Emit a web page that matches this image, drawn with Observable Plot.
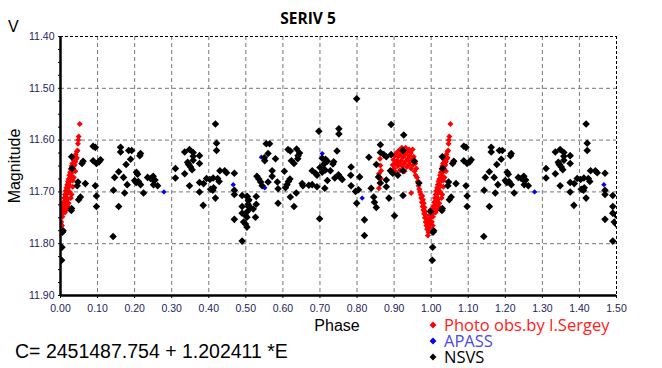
<!DOCTYPE html>
<html>
<head>
<meta charset="utf-8">
<script src="https://cdn.jsdelivr.net/npm/d3@7"></script>
<script src="https://cdn.jsdelivr.net/npm/@observablehq/plot@0.6"></script>
<style>
  html, body { margin: 0; padding: 0; background: #fff; }
  #wrap { position: relative; width: 662px; height: 368px; overflow: hidden; }
  svg text { font-family: "Liberation Sans", Arial, sans-serif; }
</style>
</head>
<body>
<div id="wrap"></div>
<script>
// ---------------- DATA (phase, V magnitude) ----------------
// Photo obs. by I.Sergey (red)
const photoObs = [
  [0.859,11.665],[0.859,11.693],[0.862,11.636],[0.863,11.649],[0.865,11.659],[0.861,11.683],[0.864,11.674],
  [0.896,11.648],[0.898,11.638],[0.900,11.655],[0.902,11.630],[0.903,11.645],[0.905,11.662],[0.906,11.625],
  [0.908,11.640],[0.910,11.650],[0.911,11.632],[0.913,11.620],[0.914,11.645],[0.916,11.658],[0.918,11.628],
  [0.919,11.640],[0.921,11.615],[0.922,11.650],[0.924,11.633],[0.925,11.622],[0.927,11.645],[0.928,11.660],
  [0.930,11.628],[0.931,11.615],[0.933,11.640],[0.934,11.652],[0.936,11.622],[0.937,11.635],[0.939,11.648],
  [0.940,11.618],[0.942,11.630],[0.943,11.642],[0.945,11.625],[0.946,11.655],[0.948,11.638],[0.950,11.618],
  [0.951,11.648],[0.953,11.632],[0.955,11.660],[0.957,11.645],[0.958,11.668],[0.960,11.655],
  [0.946,11.702],
  [0.962,11.672],[0.964,11.680],[0.966,11.688],[0.968,11.695],[0.970,11.700],[0.972,11.705],
  [0.973,11.712],[0.975,11.720],[0.976,11.708],[0.977,11.728],[0.978,11.715],[0.979,11.735],[0.980,11.722],
  [0.981,11.742],[0.982,11.730],[0.983,11.750],[0.984,11.738],[0.985,11.758],[0.986,11.745],[0.987,11.765],
  [0.988,11.752],[0.989,11.772],[0.990,11.760],[0.991,11.784],[0.992,11.768],[0.993,11.778],[0.994,11.755],
  [0.995,11.770],[0.996,11.745],[0.997,11.762],[0.998,11.735],[0.999,11.750],
  [0.001,11.742],[0.002,11.758],[0.003,11.735],[0.004,11.765],[0.005,11.748],[0.006,11.728],[0.007,11.740],
  [0.008,11.720],[0.009,11.732],[0.010,11.712],[0.011,11.725],[0.012,11.705],[0.013,11.718],[0.014,11.698],
  [0.015,11.710],[0.016,11.692],[0.017,11.704],[0.018,11.686],[0.019,11.698],[0.020,11.680],[0.021,11.692],
  [0.022,11.675],[0.023,11.686],[0.024,11.668],[0.025,11.680],[0.026,11.662],[0.027,11.674],[0.028,11.656],
  [0.029,11.668],[0.030,11.650],[0.031,11.662],[0.032,11.645],[0.034,11.655],[0.035,11.638],[0.036,11.650],
  [0.038,11.632],[0.040,11.642],[0.041,11.628],[0.043,11.636],[0.044,11.622],[0.046,11.620],[0.047,11.607],
  [0.048,11.600],[0.049,11.593],[0.052,11.569],
  [0.025,11.700],[0.028,11.712],[0.022,11.722],[0.033,11.690],[0.030,11.705],[0.036,11.672],[0.040,11.660],
  [0.018,11.715],[0.012,11.740],[0.033,11.678],[0.038,11.648],[0.044,11.634],[0.020,11.728],[0.015,11.735]
];
// APASS (blue)
const apass = [
  [0.279,11.700],[0.466,11.686],[0.542,11.633],[0.551,11.692],[0.706,11.626],[0.715,11.660],[0.814,11.712]
];
// NSVS (black)
const nsvs = [
  [0.003,11.832],[0.004,11.807],[0.005,11.778],[0.007,11.775],
  [0.030,11.632],[0.031,11.655],[0.030,11.732],[0.029,11.736],
  [0.047,11.681],[0.045,11.688],[0.054,11.710],[0.049,11.715],
  [0.061,11.641],[0.058,11.645],[0.067,11.684],
  [0.088,11.612],[0.094,11.614],[0.088,11.640],[0.097,11.645],[0.104,11.642],[0.108,11.638],
  [0.094,11.688],[0.097,11.708],[0.097,11.728],
  [0.142,11.786],
  [0.162,11.614],[0.162,11.623],[0.184,11.620],[0.192,11.620],[0.216,11.626],[0.214,11.630],[0.189,11.637],
  [0.177,11.647],[0.205,11.662],[0.208,11.666],[0.157,11.661],[0.146,11.672],[0.170,11.672],[0.200,11.678],
  [0.204,11.682],[0.210,11.680],[0.235,11.672],[0.243,11.674],[0.180,11.686],[0.216,11.686],[0.143,11.697],
  [0.173,11.702],[0.224,11.702],[0.157,11.728],[0.251,11.678],
  [0.418,11.569],[0.421,11.606],[0.421,11.620],[0.335,11.623],[0.348,11.618],[0.358,11.624],[0.358,11.631],
  [0.358,11.639],[0.375,11.630],[0.343,11.643],[0.347,11.648],[0.351,11.652],[0.355,11.657],[0.345,11.646],
  [0.375,11.645],[0.310,11.655],[0.335,11.665],[0.310,11.673],[0.250,11.670],[0.251,11.686],[0.255,11.677],
  [0.262,11.688],[0.348,11.688],[0.375,11.682],[0.386,11.684],[0.394,11.674],[0.403,11.676],[0.412,11.673],
  [0.424,11.674],[0.428,11.680],[0.430,11.659],[0.443,11.659],[0.448,11.663],[0.469,11.664],[0.375,11.700],
  [0.405,11.695],[0.413,11.692],[0.411,11.697],[0.418,11.712],[0.385,11.726],[0.469,11.697],[0.469,11.705],
  [0.490,11.707],[0.503,11.709],[0.507,11.717],[0.490,11.728],[0.507,11.728],[0.490,11.741],[0.499,11.745],
  [0.503,11.749],[0.469,11.753],[0.494,11.758],[0.499,11.762],[0.503,11.768],[0.490,11.795],
  [0.697,11.583],[0.751,11.578],[0.751,11.588],[0.555,11.607],[0.564,11.607],[0.560,11.626],[0.550,11.634],
  [0.551,11.640],[0.580,11.636],[0.614,11.618],[0.620,11.621],[0.637,11.617],[0.645,11.625],[0.641,11.630],
  [0.623,11.640],[0.630,11.645],[0.640,11.636],[0.571,11.659],[0.571,11.670],[0.604,11.660],[0.530,11.670],
  [0.535,11.675],[0.540,11.681],[0.544,11.688],[0.560,11.681],[0.585,11.681],[0.587,11.694],[0.607,11.692],
  [0.611,11.686],[0.615,11.680],[0.619,11.675],[0.652,11.684],[0.654,11.688],[0.670,11.687],[0.679,11.686],
  [0.692,11.690],[0.679,11.659],[0.688,11.664],[0.692,11.668],[0.700,11.653],[0.706,11.662],[0.713,11.657],
  [0.711,11.646],[0.715,11.637],[0.706,11.635],[0.720,11.641],[0.737,11.642],[0.735,11.646],[0.746,11.621],
  [0.728,11.659],[0.740,11.673],[0.750,11.667],[0.755,11.672],[0.720,11.678],[0.713,11.693],[0.504,11.709],
  [0.508,11.715],[0.506,11.724],[0.512,11.730],[0.504,11.738],[0.520,11.733],[0.528,11.724],[0.528,11.709],
  [0.526,11.749],[0.587,11.722],[0.620,11.710],[0.636,11.702],[0.630,11.728],[0.699,11.752],
  [0.799,11.520],[0.892,11.570],[0.926,11.590],[0.863,11.609],[0.832,11.633],[0.863,11.624],[0.872,11.628],
  [0.879,11.632],[0.892,11.628],[0.924,11.620],[0.955,11.641],[0.852,11.647],[0.784,11.652],[0.783,11.668],
  [0.760,11.676],[0.807,11.671],[0.890,11.659],[0.896,11.664],[0.910,11.668],[0.924,11.659],[0.858,11.671],
  [0.879,11.677],[0.863,11.683],[0.879,11.690],[0.784,11.688],[0.838,11.693],[0.796,11.699],[0.804,11.696],
  [0.967,11.683],[0.845,11.710],[0.847,11.720],[0.852,11.730],[0.799,11.722],[0.886,11.712],[0.924,11.707],
  [0.820,11.754],[0.901,11.746],[0.820,11.784],[0.998,11.738]
];
const xTicks = [0,0.1,0.2,0.3,0.4,0.5,0.6,0.7,0.8,0.9,1.0,1.1,1.2,1.3,1.4,1.5];
const yTicks = [11.4,11.5,11.6,11.7,11.8,11.9];
const seriesNames = ["Photo obs.by I.Sergey","APASS","NSVS"];
const seriesColors = ["#ff0000","#0000ff","#000000"];
const legendTextColors = ["#ff2020","#4a4ae8","#000000"];
const titleText = "SERIV 5";
const formulaText = "C= 2451487.754 + 1.202411 *E";

// phase-folded light curve is drawn over 1.5 cycles: observations with phase < 0.5 also appear at phase + 1
const fold = pts => pts.flatMap(([p, m]) => p < 0.5 ? [{p, m}, {p: p + 1, m}] : [{p, m}]);

const W = 662, H = 368;
const mL = 60, mR = 46, mT = 36, mB = 73;
const tickColor = "#1e1e5a";
const minorY = d3.range(0, 21).map(i => +(11.4 + i * 0.025).toFixed(3));

const chart = Plot.plot({
  width: W, height: H,
  marginLeft: mL, marginRight: mR, marginTop: mT, marginBottom: mB,
  style: {fontFamily: "Liberation Sans, Arial, sans-serif", fontSize: "10.5px", background: "white"},
  x: {domain: [0, 1.5]},
  y: {domain: [11.4, 11.9], reverse: true},
  marks: [
    Plot.gridX(xTicks.slice(1, -1), {stroke: "#777", strokeOpacity: 1, strokeDasharray: "4,3"}),
    Plot.gridY(yTicks.slice(1, -1), {stroke: "#777", strokeOpacity: 1, strokeDasharray: "4,3"}),
    Plot.ruleY([11.4], {stroke: "#000", strokeDasharray: "3,2"}),
    Plot.ruleX([1.5], {stroke: "#000", strokeDasharray: "3,2"}),
    Plot.dot(fold(photoObs), {x: "p", y: "m", symbol: "diamond2", r: 2.7, fill: seriesColors[0], clip: true}),
    Plot.dot(fold(apass), {x: "p", y: "m", symbol: "diamond2", r: 2.4, fill: seriesColors[1], clip: true}),
    Plot.dot(fold(nsvs), {x: "p", y: "m", symbol: "diamond2", r: 3.4, fill: seriesColors[2], clip: true}),
    Plot.axisY(minorY, {tickSize: 2, text: null, label: null, stroke: "#000"}),
    Plot.axisY(yTicks, {tickSize: 0, tickPadding: 6, tickFormat: d => d.toFixed(2), label: null, fill: tickColor}),
    Plot.axisX(xTicks, {tickSize: 3, tickPadding: 6, tickFormat: d => d.toFixed(2), label: null, fill: tickColor, stroke: "#000"}),
    Plot.ruleX([0], {stroke: "#000", strokeWidth: 2.5}),
    Plot.ruleY([11.9], {stroke: "#000", strokeWidth: 2.5})
  ]
});

document.getElementById("wrap").appendChild(chart);
const svg = d3.select(chart);

// Title
svg.append("text").attr("x", 308).attr("y", 24).attr("text-anchor", "middle")
  .style("font-family", "'Open Sans', sans-serif").style("font-weight", "bold").style("font-size", "15.5px")
  .attr("fill", "#000").text(titleText);
// V label
svg.append("text").attr("x", 8).attr("y", 32).attr("text-anchor", "start")
  .style("font-size", "16px").attr("fill", "#000").text("V");
// Magnitude
svg.append("text").attr("transform", "translate(20,166) rotate(-90)").attr("text-anchor", "middle")
  .style("font-size", "16px").attr("fill", "#000").text("Magnitude");
// Phase
svg.append("text").attr("x", 337).attr("y", 331).attr("text-anchor", "middle")
  .style("font-size", "16px").attr("fill", "#000").text("Phase");
// Formula
svg.append("text").attr("x", 15).attr("y", 358).attr("text-anchor", "start")
  .style("font-size", "19.5px").attr("fill", "#000").text(formulaText);
// Legend
seriesNames.forEach((name, i) => {
  const cy = 325 + i * 16;
  svg.append("path").attr("d", d3.symbol(d3.symbolDiamond2, 30)()).attr("transform", `translate(433,${cy})`)
    .attr("fill", seriesColors[i]);
  svg.append("text").attr("x", 444).attr("y", cy + 6).attr("text-anchor", "start")
    .style("font-family", "'Open Sans', sans-serif").style("font-size", "16.5px")
    .attr("fill", legendTextColors[i]).text(name);
});
</script>
</body>
</html>
